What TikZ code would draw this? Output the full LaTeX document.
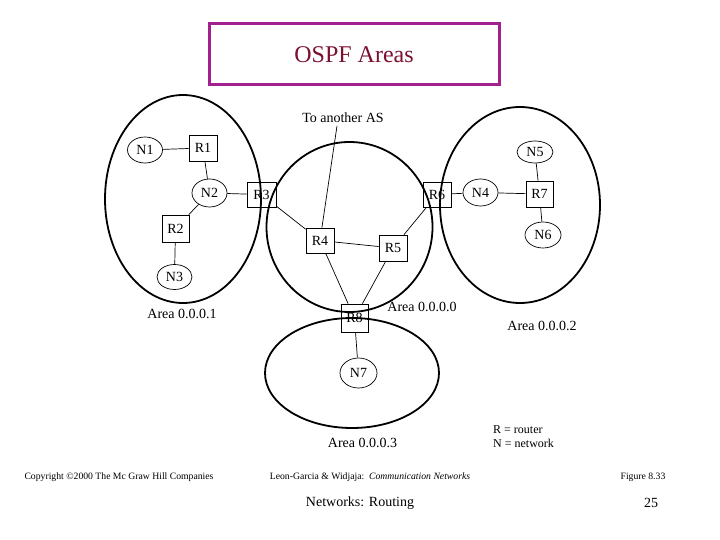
\documentclass[tikz,border=0pt]{standalone}
\usepackage{fontspec}
\setmainfont{Liberation Serif}
\usetikzlibrary{shapes.geometric}
\definecolor{boxmag}{HTML}{A3218F}
\definecolor{titlered}{HTML}{7B1030}
\tikzset{
  lbl/.style={font=\fontsize{14}{14}\selectfont, inner sep=0pt},
  router/.style={draw, rectangle, minimum width=28pt, minimum height=26pt, inner sep=0pt, line width=0.7pt, font=\fontsize{14}{14}\selectfont},
  net/.style={draw, ellipse, minimum width=35pt, minimum height=26pt, inner sep=0pt, line width=0.7pt, font=\fontsize{14}{14}\selectfont},
  area/.style={draw, line width=1.8pt},
  link/.style={draw, line width=0.7pt},
  foot/.style={font=\fontsize{9.7}{10}\selectfont, inner sep=0pt},
}
\begin{document}
\begin{tikzpicture}[x=1pt,y=-1pt]
\useasboundingbox (0,0) rectangle (720,540);
% title
\draw[boxmag, line width=3pt] (209,24) rectangle (499,85);
\node[font=\fontsize{24}{24}\selectfont, text=titlered, inner sep=0pt] (title) at (354,55) {OSPF Areas};
% areas
\draw[area] (183,199) ellipse [x radius=78pt, y radius=104pt];
\draw[area] (349.5,227) ellipse [x radius=83pt, y radius=85pt];
\draw[area] (520,205) ellipse [x radius=80pt, y radius=98pt];
\draw[area] (352,373) ellipse [x radius=87pt, y radius=55pt];
% nodes
\node[lbl] (toas) at (343,118) {To another AS};
\coordinate (toAS) at (337,126);
\node[net] (N1) at (145,150) {N1};
\node[router] (R1) at (203,148) {R1};
\node[net, minimum height=28pt] (N2) at (209.5,193) {N2};
\node[router, minimum width=29pt, minimum height=25pt] (R3) at (261.5,194.5) {R3};
\node[router, minimum width=27pt, minimum height=27pt] (R2) at (175.5,228.5) {R2};
\node[net, minimum height=25pt] (N3) at (174.5,277) {N3};
\node[router, minimum height=25pt] (R4) at (320,240.5) {R4};
\node[router] (R5) at (393,248) {R5};
\node[router, minimum height=25pt] (R6) at (437,194.5) {R6};
\node[net, minimum height=27pt] (N4) at (480.5,192.5) {N4};
\node[router, minimum width=27pt] (R7) at (539.5,194) {R7};
\node[net, minimum width=36pt, minimum height=22pt] (N5) at (535,152) {N5};
\node[net, minimum width=36pt] (N6) at (543,235) {N6};
\node[router, minimum width=27pt, minimum height=28pt] (R8) at (354.5,318) {R8};
\node[net, minimum width=37pt, minimum height=30pt] (N7) at (358.5,373) {N7};
% links
\draw[link] (N1) -- (R1);
\draw[link] (R1) -- (N2);
\draw[link] (N2) -- (R3);
\draw[link] (N2) -- (R2);
\draw[link] (R2) -- (N3);
\draw[link] (R3) -- (R4);
\draw[link] (R4) -- (toAS);
\draw[link] (R4) -- (R5);
\draw[link] (R4) -- (R8);
\draw[link] (R5) -- (R8);
\draw[link] (R5) -- (R6);
\draw[link] (R6) -- (N4);
\draw[link] (N4) -- (R7);
\draw[link] (R7) -- (N5);
\draw[link] (R7) -- (N6);
\draw[link] (R8) -- (N7);
% area labels
\node[lbl] (a1) at (182,314) {Area 0.0.0.1};
\node[lbl] (a0) at (422,307) {Area 0.0.0.0};
\node[lbl] (a2) at (542,326) {Area 0.0.0.2};
\node[lbl] (a3) at (362.5,443) {Area 0.0.0.3};
% legend
\node[font=\fontsize{12}{12}\selectfont, inner sep=0pt, anchor=west] (lr) at (493,430) {R = router};
\node[font=\fontsize{12}{12}\selectfont, inner sep=0pt, anchor=west] (ln) at (493,443) {N = network};
% footer
\node[foot] (copy) at (119,477) {Copyright \textcopyright2000 The Mc Graw Hill Companies};
\node[foot] (book) at (370,477) {Leon-Garcia \& Widjaja:\ \ \textit{Communication Networks}};
\node[foot] (fig) at (643,477) {Figure 8.33};
\node[lbl] (sub) at (360,503) {Networks: Routing};
\node[lbl] (pg) at (651,503) {25};
\end{tikzpicture}
\end{document}
